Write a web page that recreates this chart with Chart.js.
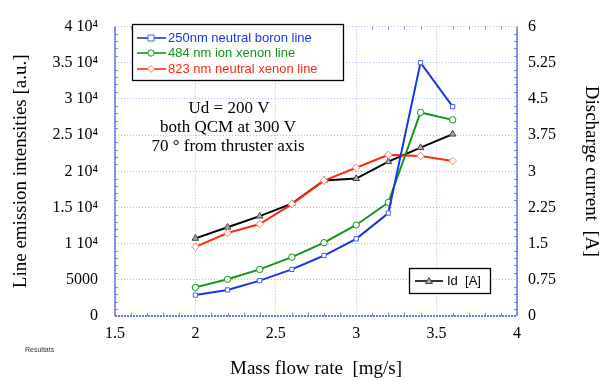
<!DOCTYPE html>
<html><head><meta charset="utf-8">
<script src="https://cdn.jsdelivr.net/npm/chart.js@4/dist/chart.umd.min.js"></script>
<style>html,body{margin:0;padding:0;background:#fff;}#wrap{width:616px;height:381px;position:relative;}</style>
</head><body><div id="wrap"><canvas id="c" width="616" height="381"></canvas></div>
<script>
const massFlow = [2.0, 2.2, 2.4, 2.6, 2.8, 3.0, 3.2, 3.4, 3.6];
const boron250 = [2890, 3600, 4890, 6440, 8360, 10670, 14220, 35020, 28930];
const xenonIon484 = [3960, 5070, 6440, 8130, 10130, 12580, 15690, 28130, 27110];
const xenonNeutral823 = [9560, 11470, 12710, 15470, 18710, 20490, 22270, 22130, 21420];
const dischargeCurrent = [1.61, 1.84, 2.07, 2.33, 2.81, 2.85, 3.20, 3.49, 3.77];
const leftTickLabels = {0:'0',5000:'5000',10000:'1 10\u2074',15000:'1.5 10\u2074',20000:'2 10\u2074',25000:'2.5 10\u2074',30000:'3 10\u2074',35000:'3.5 10\u2074',40000:'4 10\u2074'};
const seriesNames = ['250nm neutral boron line','484 nm ion xenon line','823 nm neutral xenon line','Id  [A]'];
const annotationLines = ['Ud = 200 V','both QCM at 300 V','70 \u00b0 from thruster axis'];

const BLUE='#1a35e8', GREEN='#13931a', RED='#ff2a10', GRID='rgba(120,140,240,0.6)', AXIS='#3b52e6';
const serif='"Liberation Serif","Times New Roman",serif';
const sans='"Liberation Sans",Arial,sans-serif';
const pts = a => massFlow.map((x,i)=>({x, y:a[i]}));

const overlay = {
  id:'overlay',
  afterDraw(chart){
    const ctx=chart.ctx, ca=chart.chartArea, xs=chart.scales.x, yl=chart.scales.y, yr=chart.scales.y1;
    ctx.save();
    ctx.strokeStyle=AXIS; ctx.lineWidth=1.2;
    ctx.beginPath(); ctx.moveTo(ca.left,ca.top); ctx.lineTo(ca.left,ca.bottom); ctx.stroke();
    ctx.beginPath(); ctx.moveTo(ca.right,ca.top); ctx.lineTo(ca.right,ca.bottom); ctx.stroke();
    ctx.setLineDash([2,1]); ctx.lineWidth=1.5;
    ctx.beginPath(); ctx.moveTo(ca.left,ca.bottom); ctx.lineTo(ca.right,ca.bottom); ctx.stroke();
    ctx.setLineDash([]);
    ctx.strokeStyle='rgba(90,110,230,0.8)'; ctx.lineWidth=1;
    for(let v=0; v<=40000; v+=1000){ if(v%5000===0) continue; const y=Math.round(yl.getPixelForValue(v))+0.5;
      ctx.beginPath(); ctx.moveTo(ca.left,y); ctx.lineTo(ca.left+3,y); ctx.stroke(); }
    for(let v=0; v<=6.0001; v+=0.15){ const r=Math.round(v*100); if(r%75===0) continue; const y=Math.round(yr.getPixelForValue(v))+0.5;
      ctx.beginPath(); ctx.moveTo(ca.right,y); ctx.lineTo(ca.right-3,y); ctx.stroke(); }
    for(let v=1.5; v<=4.0001; v+=0.1){ const r=Math.round(v*10); if(r%5===0) continue; const x=Math.round(xs.getPixelForValue(v))+0.5;
      ctx.beginPath(); ctx.moveTo(x,ca.bottom); ctx.lineTo(x,ca.bottom-3); ctx.stroke();
      ctx.beginPath(); ctx.moveTo(x,ca.top); ctx.lineTo(x,ca.top+3); ctx.stroke(); }
    const ds=chart.data.datasets;
    ctx.fillStyle='#fff'; ctx.fillRect(132,24,211,56);
    ctx.strokeStyle='#000'; ctx.lineWidth=1.3; ctx.strokeRect(132.5,24.5,211,56);
    const rows=[38,53,69];
    ctx.font='13px '+sans; ctx.textBaseline='middle'; ctx.textAlign='left';
    for(let i=0;i<3;i++){
      const d=ds[i], y=rows[i];
      ctx.strokeStyle=d.borderColor; ctx.lineWidth=1.6;
      ctx.beginPath(); ctx.moveTo(137,y); ctx.lineTo(166,y); ctx.stroke();
      drawMarker(ctx,d.pointStyle,151,y,d.pointBorderColor,d.pointBackgroundColor);
      ctx.fillStyle=d.borderColor; ctx.fillText(seriesNames[i],168,y+0.5);
    }
    ctx.fillStyle='#fff'; ctx.fillRect(409,268,81,25);
    ctx.strokeStyle='#000'; ctx.lineWidth=1.3; ctx.strokeRect(409.5,268.5,81,25);
    ctx.strokeStyle='#000'; ctx.lineWidth=1.6;
    ctx.beginPath(); ctx.moveTo(415,281); ctx.lineTo(443,281); ctx.stroke();
    drawMarker(ctx,'triangle',429,281,'#444','#aaa');
    ctx.fillStyle='#000'; ctx.fillText(seriesNames[3],447,281.5);
    ctx.font='17px '+serif; ctx.textAlign='center'; ctx.fillStyle='#000';
    ctx.fillText(annotationLines[0],229,109);
    ctx.fillText(annotationLines[1],228,128);
    ctx.fillText(annotationLines[2],228,147);
    ctx.font='7px '+sans; ctx.textAlign='left'; ctx.fillStyle='#333';
    ctx.fillText('Resultats',25,350);
    ctx.restore();
  }
};
function drawMarker(ctx,style,x,y,stroke,fill){
  ctx.save(); ctx.lineWidth=1; ctx.strokeStyle=stroke; ctx.fillStyle=fill;
  ctx.beginPath();
  if(style==='rect'){ ctx.rect(x-3,y-3,6,6); }
  else if(style==='circle'){ ctx.arc(x,y,3.2,0,Math.PI*2); }
  else if(style==='rectRot'){ ctx.moveTo(x,y-3.5);ctx.lineTo(x+3.5,y);ctx.lineTo(x,y+3.5);ctx.lineTo(x-3.5,y);ctx.closePath(); }
  else { ctx.moveTo(x,y-3.5);ctx.lineTo(x+3.5,y+2.5);ctx.lineTo(x-3.5,y+2.5);ctx.closePath(); }
  ctx.fill(); ctx.stroke(); ctx.restore();
}

new Chart(document.getElementById('c'),{
  type:'line',
  data:{datasets:[
    {label:seriesNames[0],data:pts(boron250),yAxisID:'y',borderColor:BLUE,borderWidth:2,pointStyle:'rect',pointRadius:3,pointBorderWidth:1,pointBorderColor:'#4a63f0',pointBackgroundColor:'#fff'},
    {label:seriesNames[1],data:pts(xenonIon484),yAxisID:'y',borderColor:GREEN,borderWidth:2,pointStyle:'circle',pointRadius:3.2,pointBorderWidth:1,pointBorderColor:GREEN,pointBackgroundColor:'#fff'},
    {label:seriesNames[2],data:pts(xenonNeutral823),yAxisID:'y',borderColor:RED,borderWidth:2,pointStyle:'rectRot',pointRadius:3.8,pointBorderWidth:1,pointBorderColor:'#ff7a6a',pointBackgroundColor:'#fff'},
    {label:seriesNames[3],data:pts(dischargeCurrent),yAxisID:'y1',borderColor:'#000',borderWidth:2,pointStyle:'triangle',pointRadius:3.8,pointBorderWidth:1,pointBorderColor:'#444',pointBackgroundColor:'#aaa'}
  ]},
  options:{
    responsive:false, animation:false,
    layout:{padding:{top:16,right:0,left:0,bottom:0}},
    plugins:{legend:{display:false},tooltip:{enabled:false}},
    elements:{line:{tension:0}},
    scales:{
      x:{type:'linear',min:1.5,max:4,
        ticks:{stepSize:0.5,color:'#000',font:{family:serif,size:16},padding:8,callback:v=>String(v)},
        grid:{color:GRID,lineWidth:1,drawTicks:false},
        border:{display:false,dash:[1,2]},
        title:{display:true,text:'Mass flow rate  [mg/s]',color:'#000',font:{family:serif,size:19},padding:{top:0,bottom:1}},
        afterFit(s){s.height=65;}
      },
      y:{type:'linear',position:'left',min:0,max:40000,
        ticks:{stepSize:5000,color:'#000',font:{family:serif,size:16},padding:17,callback:v=>leftTickLabels[v]!==undefined?leftTickLabels[v]:''},
        grid:{color:GRID,lineWidth:1,drawTicks:false},
        border:{display:false,dash:[1,2]},
        title:{display:true,text:'Line emission intensities [a.u.]',color:'#000',font:{family:serif,size:19},padding:{top:10,bottom:0}},
        afterFit(s){s.width=115;}
      },
      y1:{type:'linear',position:'right',min:0,max:6,
        ticks:{stepSize:0.75,color:'#000',font:{family:serif,size:16},padding:11,callback:v=>String(v)},
        grid:{display:false,drawTicks:false},
        border:{display:false},
        title:{display:true,text:'Discharge current  [A]',color:'#000',font:{family:serif,size:19},padding:{top:14,bottom:0}},
        afterFit(s){s.width=99;}
      }
    }
  },
  plugins:[overlay]
});
</script></body></html>
